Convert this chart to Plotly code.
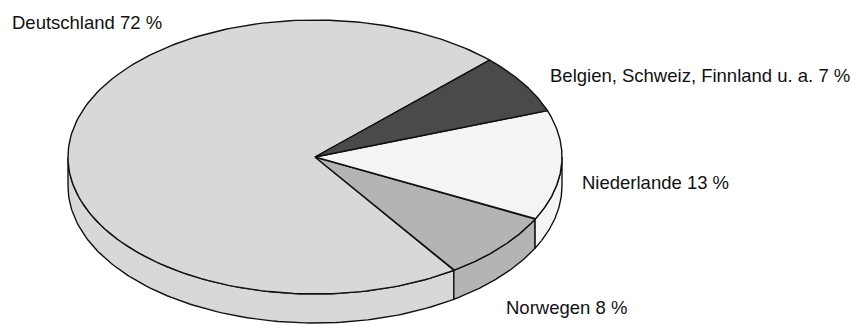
import numpy as np
import plotly.graph_objects as go

# ---- data ----
labels = ["Deutschland", "Norwegen", "Niederlande", "Belgien, Schweiz, Finnland u. a."]
values = [72, 8, 13, 7]
colors = ["#d8d8d8", "#b4b4b4", "#f4f4f4", "#4a4a4a"]
label_texts = ["Deutschland 72 %", "Norwegen 8 %", "Niederlande 13 %", "Belgien, Schweiz, Finnland u. a. 7 %"]

# ---- geometry (pixel space) ----
W, H = 853, 327
cx, cy = 315, 157
rx, ry = 247, 137
depth = 29
start_deg = 45.0  # first slice starts here, goes counterclockwise

def pt(t_deg, dz=0.0):
    t = np.radians(t_deg)
    return cx + rx * np.cos(t), cy - ry * np.sin(t) + dz

fig = go.Figure()

total = float(sum(values))
bounds = []
a = start_deg
for v in values:
    b = a + 360.0 * v / total
    bounds.append((a, b))
    a = b

# side walls (front, lower half of ellipse)
for (a0, a1), col in zip(bounds, colors):
    for lo, hi in [(180, 360), (540, 720), (-180, 0)]:
        s, e = max(a0, lo), min(a1, hi)
        if e - s <= 0.01:
            continue
        ts = np.linspace(s, e, 120)
        xt, yt = pt(ts)
        xb, yb = pt(ts[::-1], depth)
        xs = np.concatenate([xt, xb, xt[:1]])
        ys = np.concatenate([yt, yb, yt[:1]])
        fig.add_trace(go.Scatter(x=xs, y=ys, mode="lines", fill="toself",
                                 fillcolor=col, line=dict(color="#111111", width=1.4),
                                 hoverinfo="skip", showlegend=False))

# top faces
for (a0, a1), col in zip(bounds, colors):
    ts = np.linspace(a0, a1, 200)
    xt, yt = pt(ts)
    xs = np.concatenate([[cx], xt, [cx]])
    ys = np.concatenate([[cy], yt, [cy]])
    fig.add_trace(go.Scatter(x=xs, y=ys, mode="lines", fill="toself",
                             fillcolor=col, line=dict(color="#111111", width=1.4),
                             hoverinfo="skip", showlegend=False))

# labels
label_pos = {
    "Deutschland": (10, 22),
    "Norwegen": (504, 307),
    "Niederlande": (580, 182),
    "Belgien, Schweiz, Finnland u. a.": (548, 75),
}
for lab, txt in zip(labels, label_texts):
    x, y = label_pos[lab]
    fig.add_annotation(x=x, y=y, xref="x", yref="y", text=txt, showarrow=False,
                       xanchor="left", yanchor="middle",
                       font=dict(family="Liberation Sans, Arial, sans-serif", size=18.5, color="#111111"))

fig.update_xaxes(range=[0, W], visible=False, fixedrange=True)
fig.update_yaxes(range=[H, 0], visible=False, fixedrange=True)
fig.update_layout(width=W, height=H, margin=dict(l=0, r=0, t=0, b=0),
                  paper_bgcolor="white", plot_bgcolor="white")

fig.write_html("out.html")
